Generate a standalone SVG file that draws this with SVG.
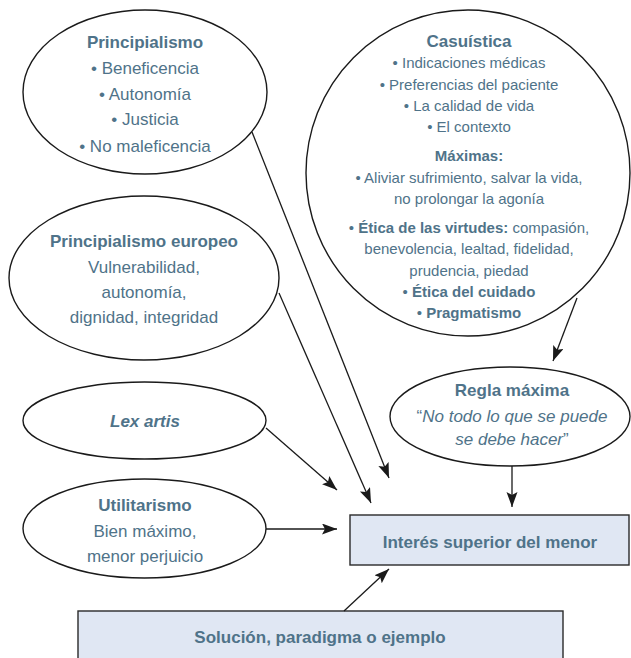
<svg xmlns="http://www.w3.org/2000/svg" width="631" height="658" viewBox="0 0 631 658">
<defs>
<style>
.n{fill:#fff;stroke:#1a1a1a;stroke-width:1.4}
.b{fill:#e0e7f3;stroke:#2a2a2a;stroke-width:1.4}
text{font-family:"Liberation Sans",Arial,sans-serif;fill:#4f7389;text-anchor:middle}
.t17{font-size:17px}
.t15{font-size:15px}
.bold{font-weight:bold}
.it{font-style:italic}
.c line{stroke:#1a1a1a;stroke-width:1.3;marker-end:url(#ah)}
</style>
<marker id="ah" markerUnits="userSpaceOnUse" markerWidth="16" markerHeight="12" refX="15" refY="5.5" orient="auto">
<path d="M0,0 L15,5.5 L0,11 L3,5.5 z" fill="#1a1a1a"/>
</marker>
</defs>
<rect width="631" height="658" fill="#fff"/>

<g id="principialismo">
<ellipse class="n" cx="145" cy="92" rx="122" ry="82"/>
<text class="t17 bold" x="145" y="48">Principialismo</text>
<text class="t17" x="145" y="74">• Beneficencia</text>
<text class="t17" x="145" y="100">• Autonomía</text>
<text class="t17" x="145" y="125">• Justicia</text>
<text class="t17" x="145" y="152">• No maleficencia</text>
</g>

<g id="casuistica">
<ellipse class="n" cx="468" cy="173" rx="162" ry="163"/>
<text class="t17 bold" x="469" y="47">Casuística</text>
<text class="t15" x="469" y="68">• Indicaciones médicas</text>
<text class="t15" x="469" y="90">• Preferencias del paciente</text>
<text class="t15" x="469" y="111">• La calidad de vida</text>
<text class="t15" x="469" y="132">• El contexto</text>
<text class="t15 bold" x="469" y="161">Máximas:</text>
<text class="t15" x="469" y="183">• Aliviar sufrimiento, salvar la vida,</text>
<text class="t15" x="469" y="204">no prolongar la agonía</text>
<text class="t15" x="469" y="233">• <tspan class="bold">Ética de las virtudes:</tspan> compasión,</text>
<text class="t15" x="469" y="254">benevolencia, lealtad, fidelidad,</text>
<text class="t15" x="469" y="276">prudencia, piedad</text>
<text class="t15" x="469" y="297">• <tspan class="bold">Ética del cuidado</tspan></text>
<text class="t15" x="469" y="318">• <tspan class="bold">Pragmatismo</tspan></text>
</g>

<g id="europeo">
<ellipse class="n" cx="144" cy="278" rx="135" ry="82"/>
<text class="t17 bold" x="144" y="247">Principialismo europeo</text>
<text class="t17" x="144" y="273">Vulnerabilidad,</text>
<text class="t17" x="144" y="298">autonomía,</text>
<text class="t17" x="144" y="323">dignidad, integridad</text>
</g>

<g id="lexartis">
<ellipse class="n" cx="144.5" cy="420.5" rx="121.5" ry="38.5"/>
<text class="t17 bold it" x="145" y="427">Lex artis</text>
</g>

<g id="utilitarismo">
<ellipse class="n" cx="144.5" cy="528.5" rx="121.5" ry="49.5"/>
<text class="t17 bold" x="145" y="511">Utilitarismo</text>
<text class="t17" x="145" y="537">Bien máximo,</text>
<text class="t17" x="145" y="562">menor perjuicio</text>
</g>

<g id="regla">
<ellipse class="n" cx="510" cy="416.5" rx="120" ry="49.5"/>
<text class="t17 bold" x="512" y="396">Regla máxima</text>
<text class="t17" x="512" y="422">“<tspan class="it">No todo lo que se puede</tspan></text>
<text class="t17" x="512" y="445"><tspan class="it">se debe hacer</tspan>”</text>
</g>

<g id="interes">
<rect class="b" x="350" y="515" width="279" height="50"/>
<text class="t17 bold" x="490" y="548">Interés superior del menor</text>
</g>

<g id="solucion">
<rect class="b" x="78" y="611" width="485" height="60"/>
<text class="t17 bold" x="320" y="643">Solución, paradigma o ejemplo</text>
</g>

<g class="c" id="connectors">
<line x1="252" y1="132" x2="389" y2="478"/>
<line x1="279" y1="293" x2="371" y2="503"/>
<line x1="266" y1="428" x2="337" y2="490"/>
<line x1="266" y1="529" x2="337" y2="529"/>
<line x1="512" y1="466" x2="512" y2="507"/>
<line x1="344" y1="611" x2="389" y2="569"/>
<line x1="577" y1="298" x2="553" y2="361"/>
</g>
</svg>
